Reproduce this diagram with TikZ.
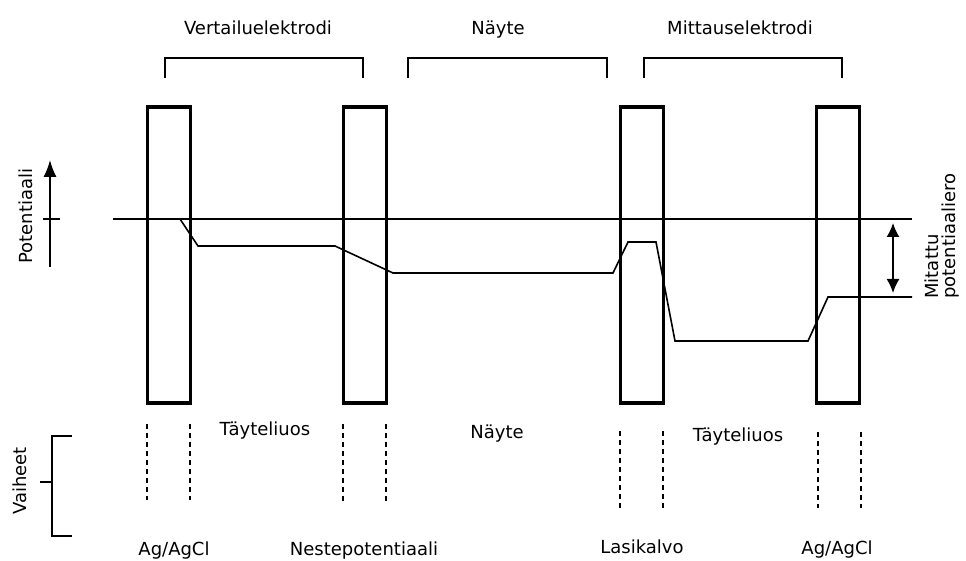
\documentclass[tikz,border=0pt]{standalone}
\usepackage{fontspec}
\setmainfont{DejaVu Sans}
\usetikzlibrary{arrows.meta}
\begin{document}
\begin{tikzpicture}[x=1pt,y=-1pt,
  lbl/.style={font=\fontsize{18}{17}\selectfont, inner sep=0pt, anchor=base},
  cell/.style={draw, line width=3.2pt, minimum width=43pt, minimum height=296pt, inner sep=0pt},
  thinline/.style={line width=1.6pt},
  dashline/.style={line width=1.8pt, dash pattern=on 5pt off 4pt}]
\useasboundingbox (0,0) rectangle (966,561);
\fill[white] (0,0) rectangle (966,561);

% cells
\node[cell] (b1) at (169,255) {};
\node[cell] (b2) at (365,255) {};
\node[cell] (b3) at (642,255) {};
\node[cell] (b4) at (838,255) {};

% reference line
\coordinate (r0) at (113,219);
\coordinate (r1) at (912,219);
\draw[thinline] (r0) -- (r1);

% potential curve
\coordinate (p0) at (180,219);
\coordinate (p1) at (198,246);
\coordinate (p2) at (335,246);
\coordinate (p3) at (393,273);
\coordinate (p4) at (613,273);
\coordinate (p5) at (628,242);
\coordinate (p6) at (656,242);
\coordinate (p7) at (675,341);
\coordinate (p8) at (808,341);
\coordinate (p9) at (828,297);
\coordinate (p10) at (912,297);
\draw[thinline, line join=miter] (p0) -- (p1) -- (p2) -- (p3) -- (p4) -- (p5) -- (p6) -- (p7) -- (p8) -- (p9) -- (p10);

% measured difference arrow
\coordinate (m0) at (893,223);
\coordinate (m1) at (893,293);
\draw[thinline, {Latex[length=14pt,width=13pt]}-{Latex[length=14pt,width=13pt]}] (m0) -- (m1);
\node[lbl, anchor=center, rotate=90, align=left] (mit) at (942,236) {Mitattu\\potentiaaliero};

% potential axis
\coordinate (a0) at (50,267);
\coordinate (a1) at (50,160);
\coordinate (t0) at (43,219);
\coordinate (t1) at (60,219);
\draw[thinline, -{Latex[length=17pt,width=13pt]}] (a0) -- (a1);
\draw[thinline] (t0) -- (t1);
\node[lbl, rotate=90] (pot) at (32,216) {Potentiaali};

% top brackets
\draw[thinline] (165,78) -- (165,58) -- (363,58) -- (363,78);
\draw[thinline] (408,78) -- (408,58) -- (607,58) -- (607,78);
\draw[thinline] (644,78) -- (644,58) -- (842,58) -- (842,78);
\node[lbl] (ver) at (258,35) {Vertailuelektrodi};
\node[lbl] (nay) at (498,35) {Näyte};
\node[lbl] (mit2) at (740,35) {Mittauselektrodi};

% phases bracket
\draw[thinline] (72,436) -- (52,436) -- (52,536) -- (72,536);
\draw[thinline] (40,482) -- (52,482);
\node[lbl, rotate=90] (vai) at (27,481) {Vaiheet};

% dashed phase boundaries
\draw[dashline] (147,424) -- (147,500);
\draw[dashline] (190,424) -- (190,500);
\draw[dashline] (343,424) -- (343,502);
\draw[dashline] (386,424) -- (386,502);
\draw[dashline] (620,431) -- (620,508);
\draw[dashline] (663,431) -- (663,508);
\draw[dashline] (818,432) -- (818,508);
\draw[dashline] (861,432) -- (861,508);

% bottom labels
\node[lbl] (tay1) at (265,435) {Täyteliuos};
\node[lbl] (nay2) at (497,438) {Näyte};
\node[lbl] (tay2) at (738,441) {Täyteliuos};
\node[lbl] (ag1) at (174,555) {Ag/AgCl};
\node[lbl] (nes) at (364,555) {Nestepotentiaali};
\node[lbl] (las) at (642,553) {Lasikalvo};
\node[lbl] (ag2) at (837,554) {Ag/AgCl};
\end{tikzpicture}
\end{document}
